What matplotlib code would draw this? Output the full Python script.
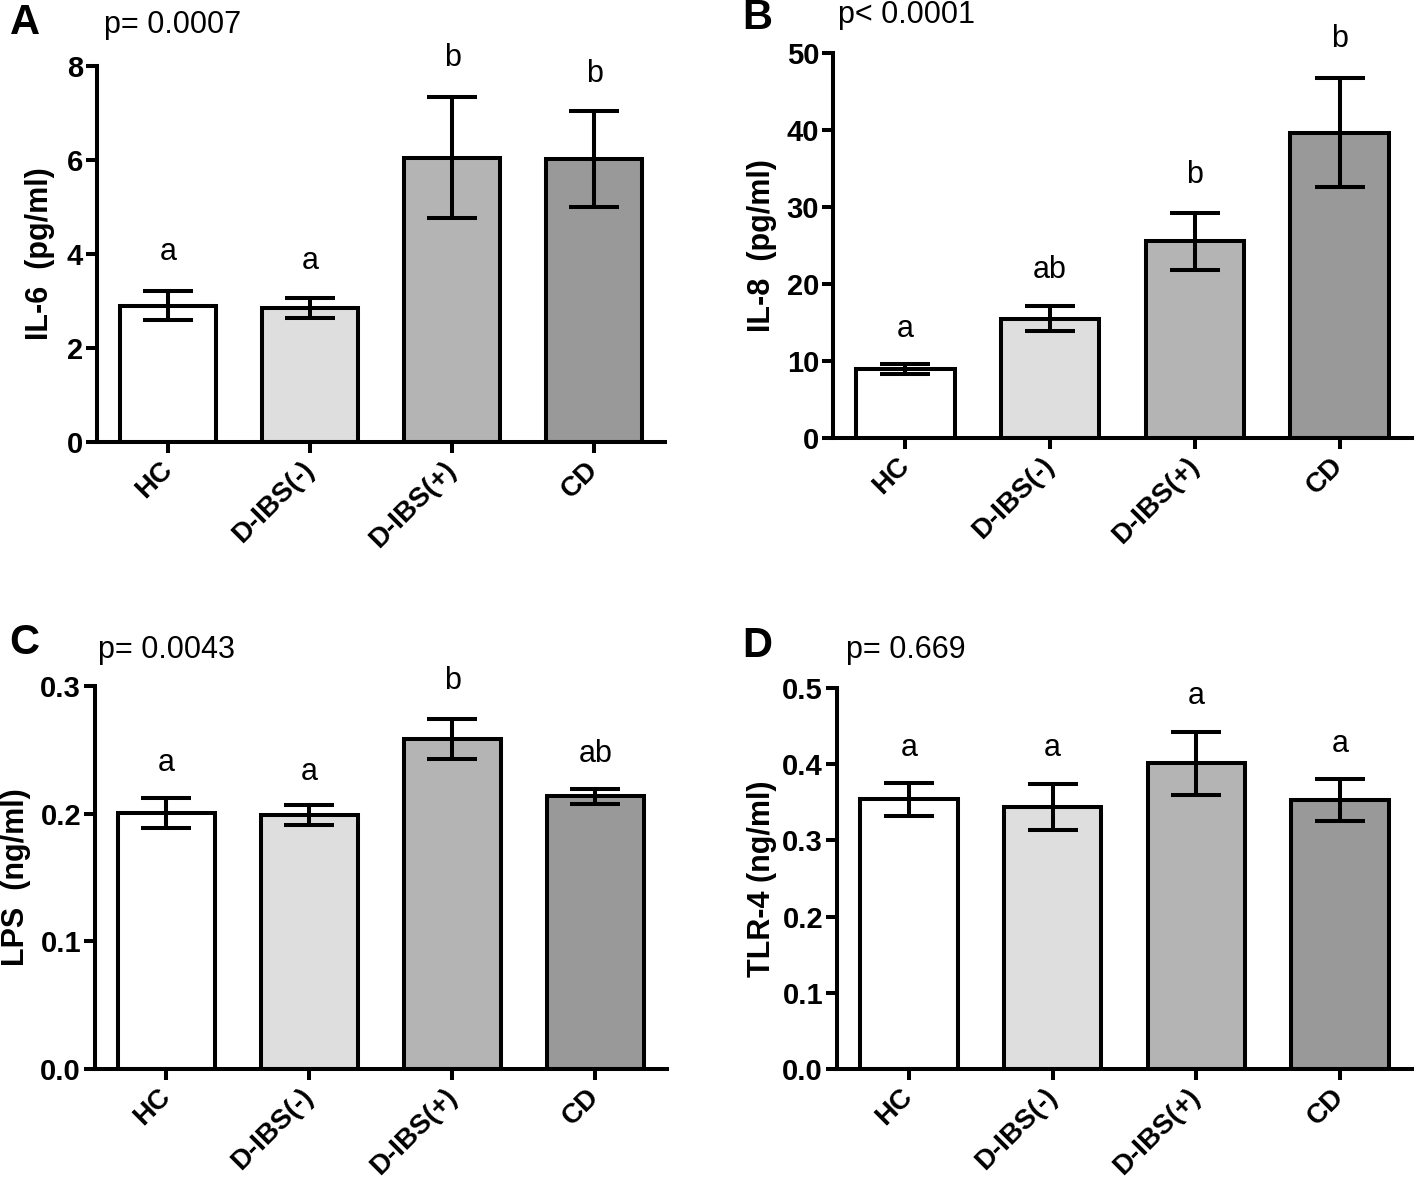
import matplotlib
matplotlib.use("Agg")
import matplotlib.pyplot as plt
import matplotlib.transforms as mtransforms

plt.rcParams['font.family'] = ['Liberation Sans', 'DejaVu Sans']

groups = ['HC', 'D-IBS(-)', 'D-IBS(+)', 'CD']
colors = ['#ffffff', '#dedede', '#b4b4b4', '#999999']

il6_mean = [2.90, 2.85, 6.05, 6.02]
il6_sem = [0.31, 0.22, 1.28, 1.03]
il6_letters = ['a', 'a', 'b', 'b']
il6_letter_y = [4.04, 3.85, 8.17, 7.83]

il8_mean = [8.95, 15.5, 25.55, 39.65]
il8_sem = [0.6, 1.6, 3.7, 7.1]
il8_letters = ['a', 'ab', 'b', 'b']
il8_letter_y = [14.2, 21.8, 34.2, 51.8]

lps_mean = [0.2005, 0.199, 0.2585, 0.2135]
lps_sem = [0.012, 0.0075, 0.0155, 0.006]
lps_letters = ['a', 'a', 'b', 'ab']
lps_letter_y = [0.240, 0.233, 0.304, 0.247]

tlr4_mean = [0.354, 0.344, 0.401, 0.353]
tlr4_sem = [0.022, 0.030, 0.041, 0.028]
tlr4_letters = ['a', 'a', 'a', 'a']
tlr4_letter_y = [0.421, 0.421, 0.490, 0.427]

panels = [
    dict(pos=[0.0686, 0.6267, 0.4014, 0.3176], mean=il6_mean, sem=il6_sem,
         letters=il6_letters, ly=il6_letter_y, ylim=8, ticks=[0, 2, 4, 6, 8],
         fmt='{:.0f}', ylabel='IL-6  (pg/ml)', tag='A', p='p= 0.0007',
         tagxy=(25, 23), pxy=(104, 25), labx=40),
    dict(pos=[0.5887, 0.6301, 0.4092, 0.3252], mean=il8_mean, sem=il8_sem,
         letters=il8_letters, ly=il8_letter_y, ylim=50, ticks=[0, 10, 20, 30, 40, 50],
         fmt='{:.0f}', ylabel='IL-8  (pg/ml)', tag='B', p='p< 0.0001',
         tagxy=(757, 18), pxy=(838, 15), labx=762),
    dict(pos=[0.0671, 0.0971, 0.4042, 0.3235], mean=lps_mean, sem=lps_sem,
         letters=lps_letters, ly=lps_letter_y, ylim=0.3, ticks=[0.0, 0.1, 0.2, 0.3],
         fmt='{:.1f}', ylabel='LPS  (ng/ml)', tag='C', p='p= 0.0043',
         tagxy=(24, 643), pxy=(98, 650), labx=16),
    dict(pos=[0.5915, 0.0971, 0.4064, 0.3218], mean=tlr4_mean, sem=tlr4_sem,
         letters=tlr4_letters, ly=tlr4_letter_y, ylim=0.5,
         ticks=[0.0, 0.1, 0.2, 0.3, 0.4, 0.5],
         fmt='{:.1f}', ylabel='TLR-4 (ng/ml)', tag='D', p='p= 0.669',
         tagxy=(757, 646), pxy=(846, 650), labx=762),
]

W, H = 1415, 1184
fig = plt.figure(figsize=(W / 100, H / 100), dpi=100)
lw = 2.9
x = list(range(len(groups)))

for pn in panels:
    ax = fig.add_axes(pn['pos'])
    ax.bar(x, pn['mean'], width=0.68, color=colors, edgecolor='black',
           linewidth=lw, zorder=2)
    ax.errorbar(x, pn['mean'], yerr=pn['sem'], fmt='none', ecolor='black',
                elinewidth=lw, capsize=18, capthick=lw, zorder=3)
    for xi, t, yy in zip(x, pn['letters'], pn['ly']):
        ax.text(xi, yy, t, ha='center', va='center', fontsize=22)
    ax.set_xlim(-0.5, 3.5)
    ax.set_ylim(0, pn['ylim'])
    ax.set_yticks(pn['ticks'])
    ax.set_yticklabels([pn['fmt'].format(t) for t in pn['ticks']],
                       fontsize=21, fontweight='bold')
    ax.set_xticks(x)
    ax.set_xticklabels(groups, fontsize=20, fontweight='bold', rotation=45,
                       ha='right', va='center', rotation_mode='anchor')
    # shift the rotated labels so their right end sits under the tick
    offset = mtransforms.ScaledTranslation(-9 / 100, 0, fig.dpi_scale_trans)
    for lab in ax.get_xticklabels():
        lab.set_transform(lab.get_transform() + offset)
    ax.tick_params(axis='both', direction='out', length=8, width=lw)
    ax.tick_params(axis='x', pad=9)
    ax.tick_params(axis='y', pad=2)
    for s in ['top', 'right']:
        ax.spines[s].set_visible(False)
    for s in ['left', 'bottom']:
        ax.spines[s].set_linewidth(lw)
    fig.text(pn['labx'] / W, pn['pos'][1] + pn['pos'][3] / 2, pn['ylabel'],
             rotation=90, ha='center', va='center', fontsize=22, fontweight='bold')
    fig.text(pn['tagxy'][0] / W, 1 - pn['tagxy'][1] / H, pn['tag'],
             ha='center', va='center', fontsize=30, fontweight='bold')
    fig.text(pn['pxy'][0] / W, 1 - pn['pxy'][1] / H, pn['p'],
             ha='left', va='center', fontsize=22)

fig.savefig('out.png', dpi=100)
